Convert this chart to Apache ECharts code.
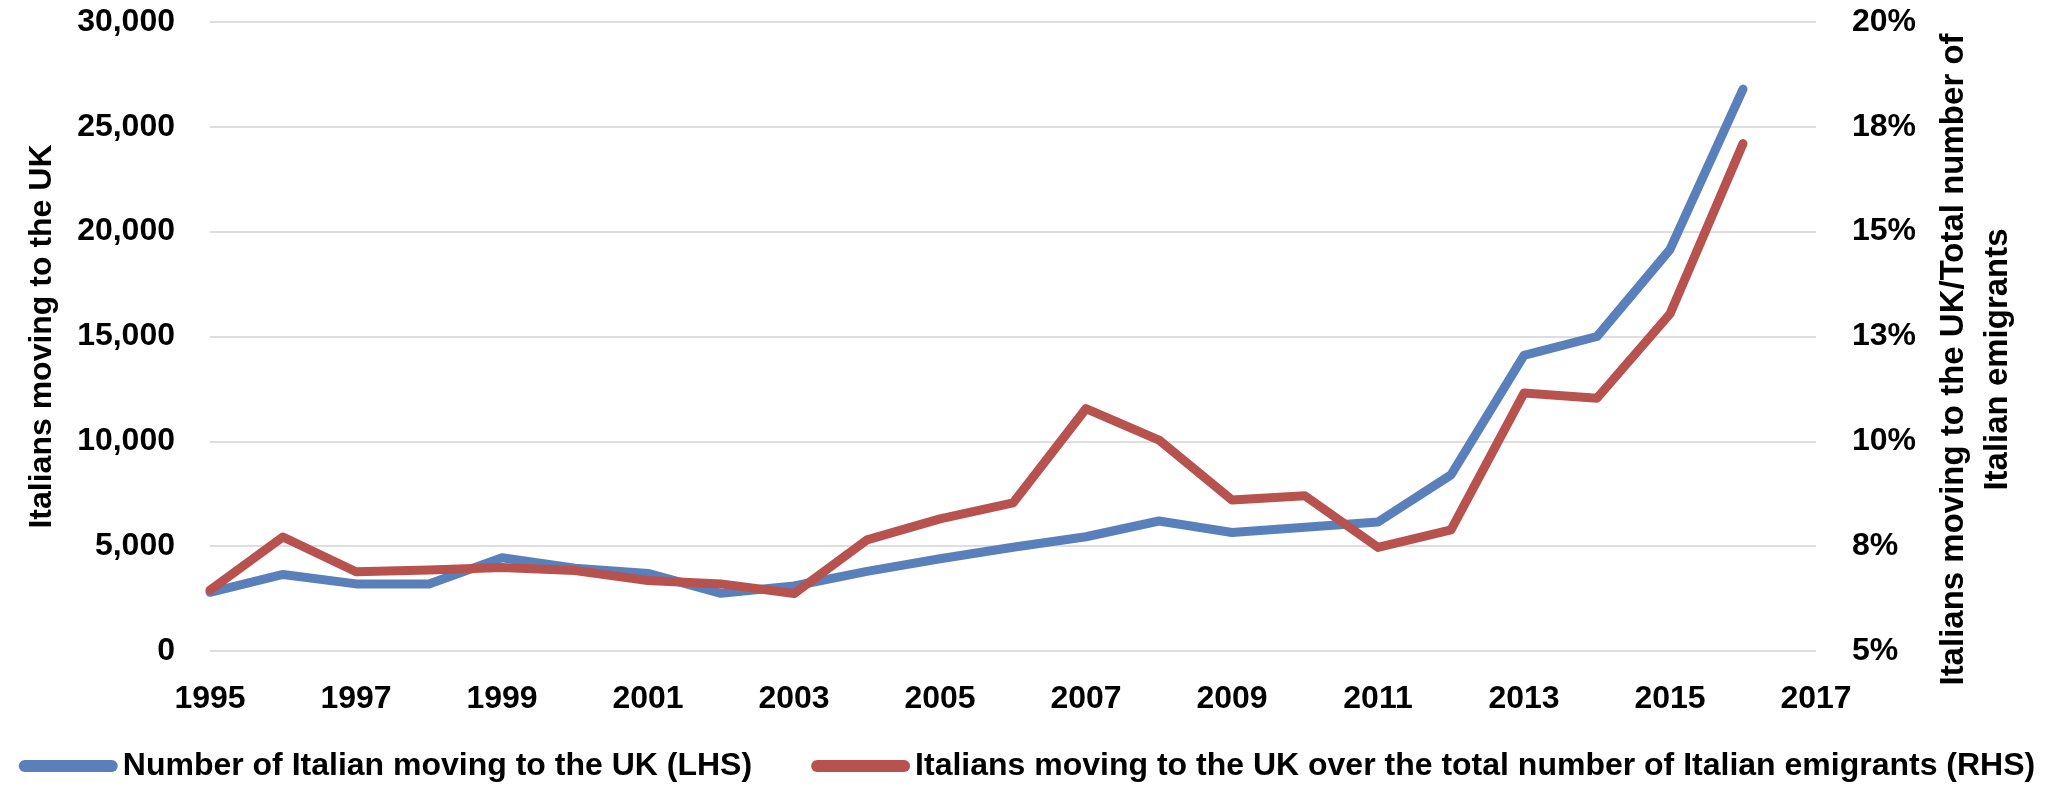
<!DOCTYPE html>
<html>
<head>
<meta charset="utf-8">
<script src="https://cdn.jsdelivr.net/npm/echarts@6/dist/echarts.min.js"></script>
<style>
  html, body { margin: 0; padding: 0; background: #ffffff; }
  #chart { width: 2054px; height: 787px; }
</style>
</head>
<body>
<div id="chart"></div>
<script>
// ---- data ----
const years = ['1995','1996','1997','1998','1999','2000','2001','2002','2003','2004','2005',
               '2006','2007','2008','2009','2010','2011','2012','2013','2014','2015','2016','2017'];
const italiansToUK = [2800, 3650, 3200, 3200, 4450, 3950, 3700, 2750, 3100, 3800, 4400,
                      4950, 5450, 6200, 5650, 5900, 6150, 8400, 14100, 15000, 19150, 26800];
const shareOfEmigrants = [6.45, 7.72, 6.89, 6.93, 6.99, 6.92, 6.68, 6.60, 6.37, 7.65, 8.15,
                          8.53, 10.78, 10.03, 8.60, 8.70, 7.47, 7.89, 11.15, 11.03, 13.04, 17.10];
const seriesNames = ['Number of Italian moving to the UK (LHS)',
                     'Italians moving to the UK over the total number of Italian emigrants (RHS)'];
const leftAxisTitle = 'Italians moving to the UK';
const rightAxisTitle = 'Italians moving to the UK/Total number of\nItalian emigrants';

// ---- style ----
const FONT = 'Liberation Sans';
const BLUE = '#5A80BC';
const RED = '#B7524E';
const txt = { fontFamily: FONT, fontWeight: 'bold', fontSize: 32, color: '#000' };

const chart = echarts.init(document.getElementById('chart'), null, { renderer: 'canvas' });
chart.setOption({
  animation: false,
  backgroundColor: '#ffffff',
  grid: { left: 210, right: 238, top: 22, bottom: 136, outerBoundsMode: 'none' },
  legend: {
    bottom: 0,
    left: 'center',
    itemWidth: 99,
    itemHeight: 12,
    itemGap: 59,
    textStyle: Object.assign({}, txt),
    data: [
      { name: seriesNames[0], icon: 'path://M6,0 H93 A6,6 0 0 1 93,12 H6 A6,6 0 0 1 6,0 Z' },
      { name: seriesNames[1], icon: 'path://M6,0 H93 A6,6 0 0 1 93,12 H6 A6,6 0 0 1 6,0 Z' }
    ]
  },
  xAxis: {
    type: 'category',
    data: years,
    boundaryGap: false,
    axisLine: { show: false },
    axisTick: { show: false },
    splitLine: { show: false },
    axisLabel: Object.assign({ interval: 1, margin: 32 }, txt)
  },
  yAxis: [
    {
      type: 'value',
      min: 0, max: 30000, interval: 5000,
      position: 'left',
      axisLine: { show: false },
      axisTick: { show: false },
      splitLine: { show: true, lineStyle: { color: '#DEDEDE', width: 2 } },
      axisLabel: Object.assign({
        margin: 35,
        formatter: v => v.toLocaleString('en-US')
      }, txt),
      name: leftAxisTitle,
      nameLocation: 'middle',
      nameRotate: 90,
      nameGap: 152,
      nameTextStyle: Object.assign({}, txt)
    },
    {
      type: 'value',
      min: 5, max: 20, interval: 2.5,
      position: 'right',
      axisLine: { show: false },
      axisTick: { show: false },
      splitLine: { show: false },
      axisLabel: Object.assign({
        margin: 36,
        formatter: v => Math.round(v) + '%'
      }, txt),
      name: rightAxisTitle,
      nameLocation: 'middle',
      nameRotate: 90,
      nameGap: 116,
      nameTextStyle: Object.assign({}, txt, { fontSize: 33, lineHeight: 44, align: 'center', padding: [0, 46, 0, 0] })
    }
  ],
  series: [
    {
      name: seriesNames[0],
      type: 'line',
      yAxisIndex: 0,
      data: italiansToUK,
      showSymbol: false,
      symbol: 'none',
      color: BLUE,
      lineStyle: { color: BLUE, width: 9, cap: 'round', join: 'round' }
    },
    {
      name: seriesNames[1],
      type: 'line',
      yAxisIndex: 1,
      data: shareOfEmigrants,
      showSymbol: false,
      symbol: 'none',
      color: RED,
      lineStyle: { color: RED, width: 9, cap: 'round', join: 'round' }
    }
  ]
});
</script>
</body>
</html>
